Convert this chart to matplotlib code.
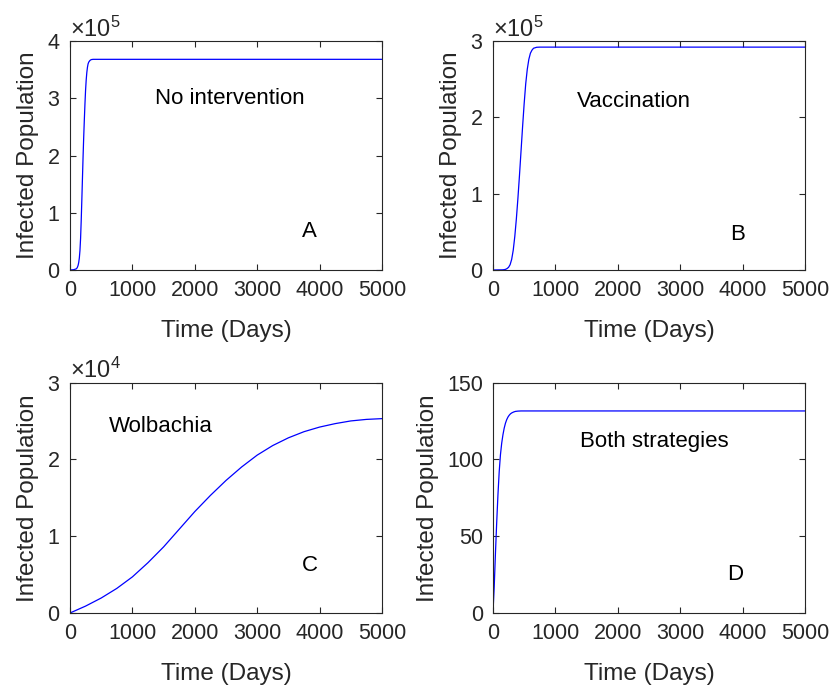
import numpy as np
import matplotlib
matplotlib.use('Agg')
import matplotlib.pyplot as plt

plt.rcParams['font.family'] = ['Liberation Sans', 'DejaVu Sans']
plt.rcParams['mathtext.fontset'] = 'custom'
plt.rcParams['mathtext.rm'] = 'Liberation Sans'
plt.rcParams['mathtext.it'] = 'Liberation Sans:italic'
plt.rcParams['mathtext.bf'] = 'Liberation Sans:bold'

# A: no intervention
days_a = [0, 60, 100, 110, 120, 130, 140, 150, 160, 170, 180, 190, 200, 210, 220,
          230, 240, 250, 260, 270, 280, 290, 300, 320, 340, 370, 5000]
infected_a = [0, 500, 2000, 3000, 5000, 8000, 13000, 21000, 34000, 55000, 86000,
              122000, 160000, 198000, 232000, 262000, 290000, 314000, 332000,
              345000, 354000, 360000, 363000, 366000, 367500, 368000, 368000]

# B: vaccination
days_b = [0, 150, 175, 200, 225, 250, 275, 300, 325, 350, 375, 400, 425, 450, 475,
          500, 525, 550, 575, 600, 625, 650, 700, 750, 5000]
infected_b = [0, 200, 400, 800, 1800, 3500, 7000, 14000, 26000, 44000, 67000,
              94000, 124000, 156000, 188000, 218000, 244000, 263000, 276000,
              284000, 288000, 290500, 291800, 292000, 292000]

# C: Wolbachia
days_c = [0, 250, 500, 750, 1000, 1250, 1500, 1750, 2000, 2250, 2500, 2750, 3000,
          3250, 3500, 3750, 4000, 4250, 4500, 4750, 5000]
infected_c = [0, 900, 1950, 3200, 4700, 6550, 8600, 10900, 13200, 15300, 17250,
              19000, 20550, 21800, 22800, 23600, 24200, 24650, 25000, 25200, 25300]

# D: both strategies
days_d = [0, 20, 40, 60, 80, 100, 120, 140, 160, 180, 200, 220, 240, 260, 280,
          300, 330, 360, 400, 450, 5000]
infected_d = [0, 17, 39, 59, 77, 92, 103, 110.5, 116, 120.3, 123.5, 125.8, 127.5,
              128.7, 129.6, 130.2, 130.8, 131.2, 131.4, 131.5, 131.5]

panels = [
    (days_a, infected_a, 4e5, 'No intervention', (1360, 3.0e5), 'A', (3720, 0.68e5)),
    (days_b, infected_b, 3e5, 'Vaccination', (1346, 2.21e5), 'B', (3800, 0.47e5)),
    (days_c, infected_c, 3e4, 'Wolbachia', (625, 2.43e4), 'C', (3720, 0.62e4)),
    (days_d, infected_d, 150, 'Both strategies', (1394, 111.5), 'D', (3750, 25)),
]

positions = [
    [0.0841, 0.607, 0.375, 0.3333],
    [0.5925, 0.607, 0.375, 0.3333],
    [0.0841, 0.1077, 0.375, 0.3355],
    [0.5925, 0.1077, 0.375, 0.3355],
]

fig = plt.figure(figsize=(8.32, 6.87), dpi=100)
grey = '#262626'

for pos, (x, y, ymax, label, lpos, letter, cpos) in zip(positions, panels):
    ax = fig.add_axes(pos)
    ax.plot(x, y, color='#0000ff', lw=0.9)
    ax.set_xlim(0, 5000)
    ax.set_ylim(0, ymax)
    ax.set_xticks(np.arange(0, 5001, 1000))
    if ymax == 150:
        ax.set_yticks([0, 50, 100, 150])
    else:
        ax.set_yticks(np.linspace(0, ymax, int(round(ymax / 10 ** np.floor(np.log10(ymax)))) + 1))
        ax.ticklabel_format(style='sci', axis='y', scilimits=(0, 0), useMathText=True)
    ax.tick_params(direction='in', top=True, right=True, length=4, width=0.8,
                   labelsize=15.5, colors=grey, pad=7)
    ax.yaxis.get_offset_text().set_fontsize(17)
    ax.yaxis.get_offset_text().set_color(grey)
    for s in ax.spines.values():
        s.set_color(grey)
        s.set_linewidth(0.8)
    ax.set_xlabel('Time (Days)', fontsize=17.5, color=grey, labelpad=14)
    ax.set_ylabel('Infected Population', fontsize=17.5, color=grey, labelpad=6)
    ax.text(lpos[0], lpos[1], label, fontsize=16, va='center', ha='left')
    ax.text(cpos[0], cpos[1], letter, fontsize=16, va='center', ha='left')

fig.savefig('out.png', dpi=100)
